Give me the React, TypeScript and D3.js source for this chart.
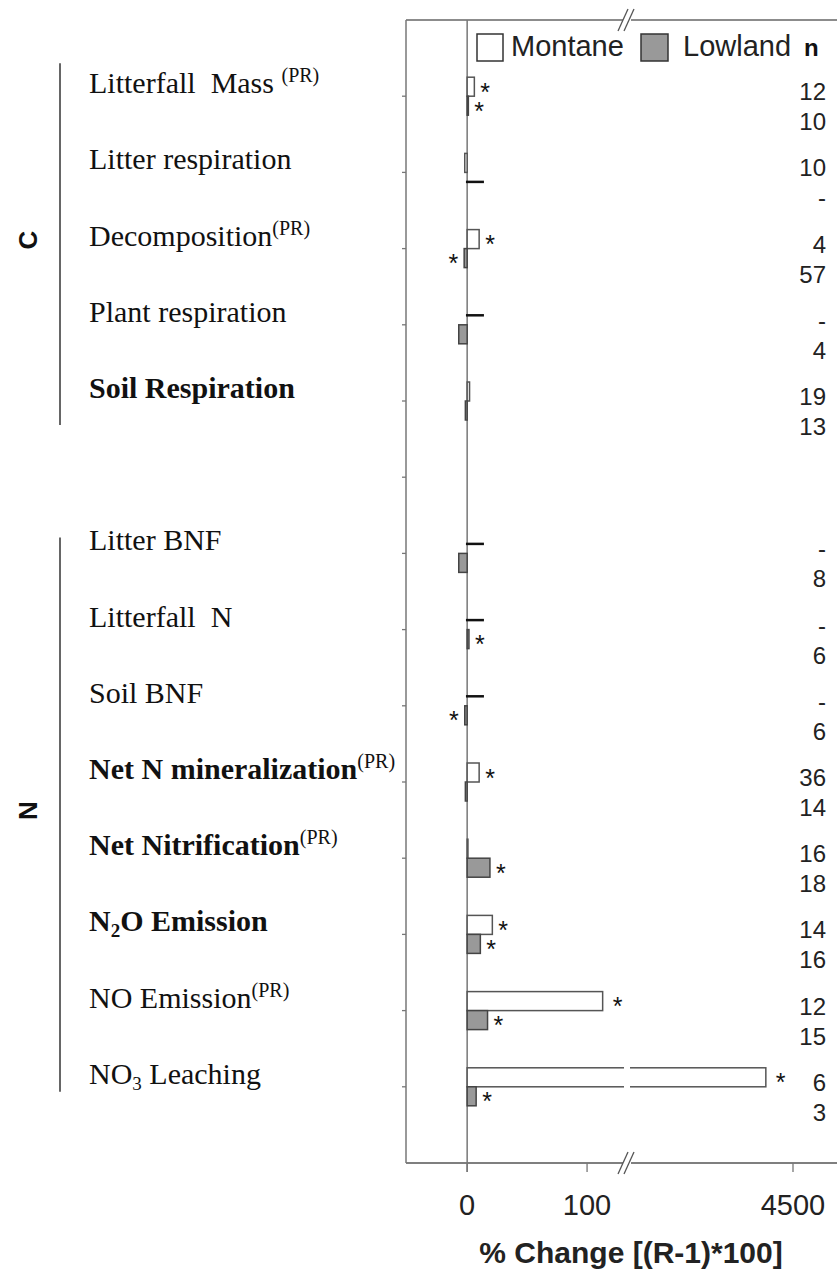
import React from "react";
import * as d3 from "d3";

const groups = ["C", "N"];
const categories = [
  "Litterfall Mass", "Litter respiration", "Decomposition", "Plant respiration", "Soil Respiration",
  "Litter BNF", "Litterfall N", "Soil BNF", "Net N mineralization", "Net Nitrification", "N2O Emission", "NO Emission", "NO3 Leaching",
];
const categoryGroup = ["C", "C", "C", "C", "C", "N", "N", "N", "N", "N", "N", "N", "N"];
const prFlag = [true, false, true, false, false, false, false, false, true, true, false, true, false];
const boldFlag = [false, false, false, false, true, false, false, false, true, true, true, false, false];
const montane: (number | null)[] = [6, -2, 10, null, 2, null, null, null, 10, 0.6, 21, 113, 4250];
const lowland: (number | null)[] = [1, null, -2.5, -7, -1.5, -7, 1.5, -2, -1.5, 19, 11, 17, 7.5];
const montaneSig = [true, false, true, false, false, false, false, false, true, false, true, true, true];
const lowlandSig = [true, false, true, false, false, false, true, true, false, true, true, true, true];
const montaneN = ["12", "10", "4", "-", "19", "-", "-", "-", "36", "16", "14", "12", "6"];
const lowlandN = ["10", "-", "57", "4", "13", "8", "6", "6", "14", "18", "16", "15", "3"];
const xTicks = [0, 100, 4500];

const W = 837, H = 1270;
const frameLeft = 406, frameTop = 20, frameBottom = 1163;
const SANS = "Arial, 'Liberation Sans', sans-serif";
const SERIF = "'Liberation Serif', 'Times New Roman', serif";

export default function App() {
  const x = d3.scaleLinear().domain([-51, 130.8, 3000, 4500]).range([406, 624, 630, 793]);
  const y = d3.scaleLinear().domain([0, 15]).range([frameTop, frameBottom]);
  const slotIndex = categories.map((_, i) => (categoryGroup[i] === "C" ? i + 1 : i + 2));
  const barH = 19;
  const x0 = x(0);
  const breakX = 627;

  const renderLabel = (i: number) => {
    const name = categories[i];
    const yy = y(slotIndex[i]) - 3;
    const parts: React.ReactNode[] = [];
    if (name === "N2O Emission") {
      parts.push(<tspan key="a">N</tspan>);
      parts.push(<tspan key="b" fontSize={19} dy={6}>2</tspan>);
      parts.push(<tspan key="c" dy={-6}>O Emission</tspan>);
    } else if (name === "NO3 Leaching") {
      parts.push(<tspan key="a">NO</tspan>);
      parts.push(<tspan key="b" fontSize={19} dy={6}>3</tspan>);
      parts.push(<tspan key="c" dy={-6}> Leaching</tspan>);
    } else if (name === "Litterfall Mass") {
      parts.push(<tspan key="a">Litterfall{"\u00a0\u00a0"}Mass </tspan>);
    } else if (name === "Litterfall N") {
      parts.push(<tspan key="a">Litterfall{"\u00a0\u00a0"}N</tspan>);
    } else {
      parts.push(<tspan key="a">{name}</tspan>);
    }
    if (prFlag[i]) {
      parts.push(<tspan key="pr" fontSize={20} fontWeight="normal" dy={-11}>(PR)</tspan>);
    }
    return (
      <text key={"lab" + i} x={89} y={yy} fontFamily={SERIF}
        fontSize={30} fontWeight={boldFlag[i] ? "bold" : "normal"} fill="#111" style={{ whiteSpace: "pre" }}>
        {parts}
      </text>
    );
  };

  const bars: React.ReactNode[] = [];
  categories.forEach((_, i) => {
    const t = y(slotIndex[i]);
    const series = [
      { v: montane[i], sig: montaneSig[i], top: t - barH, fill: "#ffffff", stroke: "#555" },
      { v: lowland[i], sig: lowlandSig[i], top: t, fill: "#999999", stroke: "#444" },
    ];
    series.forEach((s, k) => {
      const cy = s.top + barH / 2;
      if (s.v === null) {
        bars.push(<line key={`d${i}-${k}`} x1={x(-1)} x2={x(14)} y1={cy} y2={cy} stroke="#111" strokeWidth={2.5} />);
        return;
      }
      const xa = Math.min(x0, x(s.v));
      const xb = Math.max(x0, x(s.v));
      bars.push(
        <rect key={`b${i}-${k}`} x={xa} y={s.top} width={Math.max(xb - xa, 0.8)} height={barH}
          fill={s.fill} stroke={s.stroke} strokeWidth={1.5} />
      );
      if (s.v > 130.8) {
        bars.push(<rect key={`g${i}-${k}`} x={breakX - 3} y={s.top - 2} width={6} height={barH + 4} fill="#fff" />);
      }
      if (s.sig) {
        const right = s.v >= 0;
        bars.push(
          <text key={`s${i}-${k}`} x={right ? xb + (s.v > 100 ? 10 : 6) : xa - 6} y={cy + 14}
            textAnchor={right ? "start" : "end"} fontFamily={SANS}
            fontSize={25} fill="#111">*</text>
        );
      }
    });
    bars.push(
      <text key={`nm${i}`} x={826} y={t + 4} textAnchor="end" fontFamily={SANS}
        fontSize={24} fill="#222">{montaneN[i]}</text>
    );
    bars.push(
      <text key={`nl${i}`} x={826} y={t + 34} textAnchor="end" fontFamily={SANS}
        fontSize={24} fill="#222">{lowlandN[i]}</text>
    );
  });

  const yTicks = d3.range(1, 15);

  const groupSpan = (g: string): [number, number] => {
    const idx = categories.map((_, i) => i).filter((i) => categoryGroup[i] === g);
    const first = y(slotIndex[idx[0]]);
    const last = y(slotIndex[idx[idx.length - 1]]);
    return g === "C" ? [first - 33, last + 24] : [first - 16, last + 5];
  };

  const breakMark = (cx: number, cy: number, key: string) => (
    <g key={key}>
      <rect x={cx - 4} y={cy - 2} width={8} height={4} fill="#fff" />
      <line x1={cx - 9} y1={cy + 11} x2={cx + 1} y2={cy - 11} stroke="#555" strokeWidth={1.3} />
      <line x1={cx - 3} y1={cy + 11} x2={cx + 7} y2={cy - 11} stroke="#555" strokeWidth={1.3} />
    </g>
  );

  return (
    <svg width={W} height={H} style={{ position: "absolute", left: 0, top: 0, background: "#fff" }}>
      <rect x={0} y={0} width={W} height={H} fill="#fff" />
      <line x1={frameLeft} x2={W} y1={frameTop} y2={frameTop} stroke="#666" strokeWidth={1.5} />
      <line x1={frameLeft} x2={W} y1={frameBottom} y2={frameBottom} stroke="#555" strokeWidth={1.5} />
      <line x1={frameLeft} x2={frameLeft} y1={frameTop} y2={frameBottom} stroke="#777" strokeWidth={1.5} />
      {yTicks.map((t) => (
        <line key={"yt" + t} x1={frameLeft - 4} x2={frameLeft} y1={y(t)} y2={y(t)} stroke="#777" strokeWidth={1.3} />
      ))}
      <line x1={x0} x2={x0} y1={frameTop} y2={frameBottom + 9} stroke="#777" strokeWidth={1.5} />
      {xTicks.map((t) => (
        <g key={"xt" + t}>
          <line x1={x(t)} x2={x(t)} y1={frameBottom} y2={frameBottom + 9} stroke="#777" strokeWidth={1.3} />
          <text x={x(t)} y={1215} textAnchor="middle" fontFamily={SANS}
            fontSize={29} fill="#222">{t}</text>
        </g>
      ))}
      {breakMark(breakX, frameTop, "bt")}
      {breakMark(breakX, frameBottom, "bb")}
      {bars}
      <rect x={477} y={34} width={26} height={27} fill="#fff" stroke="#333" strokeWidth={1.5} />
      <text x={511} y={56} fontFamily={SANS} fontSize={29} fill="#222">Montane</text>
      <rect x={641} y={34} width={27} height={27} fill="#999" stroke="#333" strokeWidth={1.5} />
      <text x={683} y={56} fontFamily={SANS} fontSize={29} fill="#222">Lowland</text>
      <text x={804} y={56} fontFamily={SANS} fontSize={24} fontWeight="bold" fill="#111">n</text>
      {categories.map((_, i) => renderLabel(i))}
      {groups.map((g) => {
        const [a, b] = groupSpan(g);
        const mid = (a + b) / 2;
        return (
          <g key={"grp" + g}>
            <line x1={60} x2={60} y1={a} y2={b} stroke="#333" strokeWidth={1.5} />
            <text x={0} y={0} transform={`translate(37, ${mid - 4}) rotate(-90)`} textAnchor="middle"
              fontFamily={SANS} fontSize={26} fontWeight="bold" fill="#111">{g}</text>
          </g>
        );
      })}
      <text x={631} y={1263} textAnchor="middle" fontFamily={SANS}
        fontSize={30} fontWeight="bold" fill="#222">% Change [(R-1)*100]</text>
    </svg>
  );
}
